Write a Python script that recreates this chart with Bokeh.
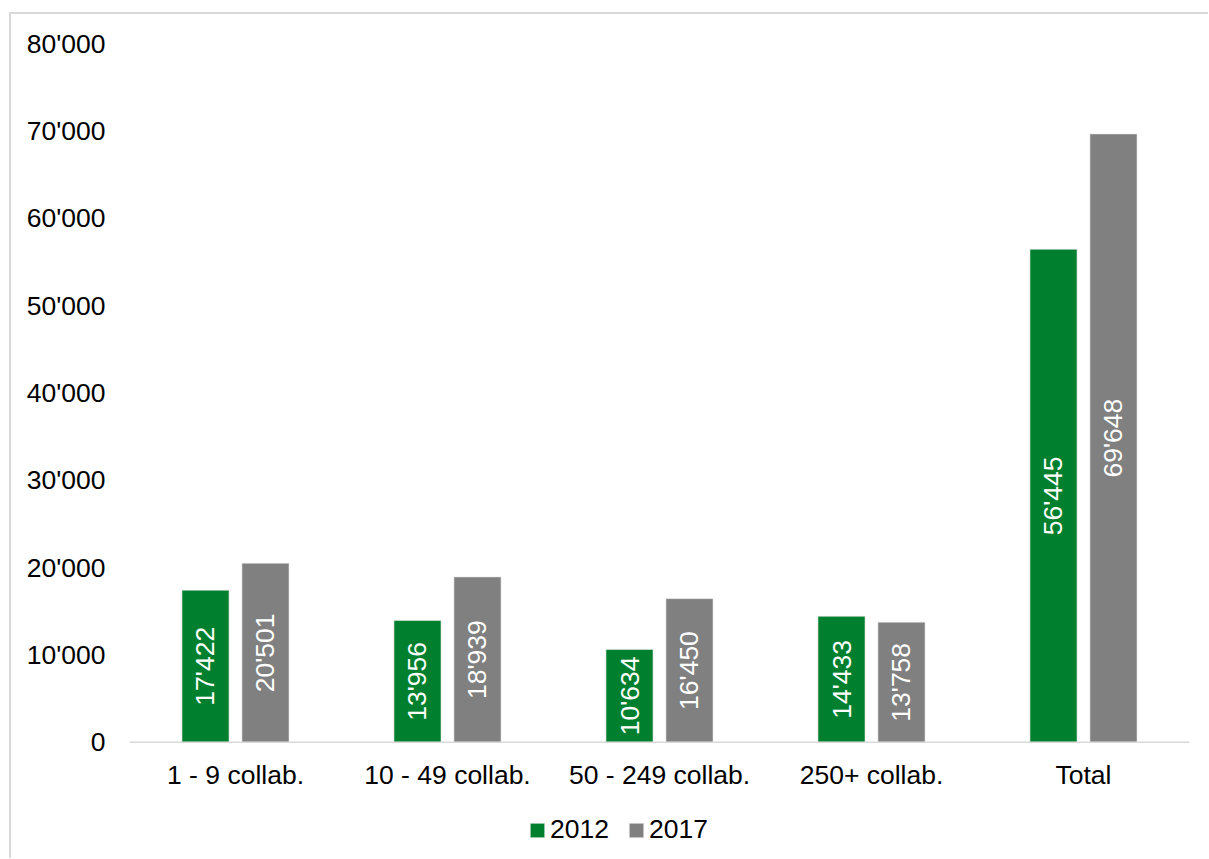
from bokeh.plotting import figure
from bokeh.models import ColumnDataSource, FactorRange, Range1d, LabelSet, Legend, LegendItem, FixedTicker, Span
from bokeh.transform import dodge
from bokeh.core.properties import value
from bokeh.embed import file_html
from bokeh.resources import INLINE

categories = ["1 - 9 collab.", "10 - 49 collab.", "50 - 249 collab.", "250+ collab.", "Total"]
values_2012 = [17422, 13956, 10634, 14433, 56445]
values_2017 = [20501, 18939, 16450, 13758, 69648]
series_names = ["2012", "2017"]
y_ticks = [0, 10000, 20000, 30000, 40000, 50000, 60000, 70000, 80000]
y_tick_labels = ["0", "10'000", "20'000", "30'000", "40'000", "50'000", "60'000", "70'000", "80'000"]

GREEN = "#00802f"
GRAY = "#808080"
FONT = "Liberation Sans"
FS = "26.5px"


def fmt(v):
    return f"{v:,}".replace(",", "'")


src = ColumnDataSource(dict(
    cat=categories,
    v12=values_2012,
    v17=values_2017,
    m12=[v / 2 for v in values_2012],
    m17=[v / 2 for v in values_2017],
    t12=[fmt(v) for v in values_2012],
    t17=[fmt(v) for v in values_2017],
))

# frame: 80000 at y=44, 0 at y=742; frame extends down to the canvas bottom
y_start = -(860 - 742) / (742 - 44) * 80000

p = figure(
    x_range=FactorRange(*categories, range_padding=0),
    y_range=Range1d(y_start, 80000),
    x_axis_location=None,
    width=1199, height=846,
    output_backend="svg", toolbar_location=None,
    min_border_left=118, min_border_right=21, min_border_top=29, min_border_bottom=0,
)
p.margin = (12, 0, 0, 9)
p.styles = {"border-top": "2px solid #d9d9d9", "border-left": "2px solid #d9d9d9"}
p.outline_line_color = None
p.xgrid.grid_line_color = None
p.ygrid.grid_line_color = None
p.background_fill_color = "white"
p.border_fill_color = "white"

# baseline (category axis line)
p.add_layout(Span(location=0, dimension="width", line_color="#d9d9d9", line_width=1.5))

off = 0.1415
bw = 0.222
r1 = p.vbar(x=dodge("cat", -off, range=p.x_range), top="v12", width=bw, source=src,
            fill_color=GREEN, line_color="#e6e6e6", line_width=0.6)
r2 = p.vbar(x=dodge("cat", off, range=p.x_range), top="v17", width=bw, source=src,
            fill_color=GRAY, line_color="#e6e6e6", line_width=0.6)

for xo, yc, tc in [(-off, "m12", "t12"), (off, "m17", "t17")]:
    p.add_layout(LabelSet(x=dodge("cat", xo, range=p.x_range), y=yc, text=tc, source=src,
                          angle=1.5707963, text_align="center", text_baseline="middle",
                          text_color="white", text_font=value(FONT), text_font_size=FS))

# category labels
p.text(x="cat", y=0, text="cat", source=src, y_offset=18,
       text_align="center", text_baseline="top", text_color="black",
       text_font=value(FONT), text_font_size=value(FS))

# y axis
p.yaxis.ticker = FixedTicker(ticks=y_ticks)
p.yaxis.major_label_overrides = {t: l for t, l in zip(y_ticks, y_tick_labels)}
p.yaxis.axis_line_color = None
p.yaxis.major_tick_line_color = None
p.yaxis.minor_tick_line_color = None
p.yaxis.major_tick_out = 0
p.yaxis.major_tick_in = 0
p.yaxis.major_label_standoff = 24
p.yaxis.major_label_text_font = FONT
p.yaxis.major_label_text_font_size = FS
p.yaxis.major_label_text_color = "black"

legend = Legend(items=[LegendItem(label=series_names[0], renderers=[r1]),
                       LegendItem(label=series_names[1], renderers=[r2])],
                orientation="horizontal", location=(399, 15),
                glyph_width=18, glyph_height=18, label_standoff=4, spacing=18,
                label_text_font=FONT, label_text_font_size=FS, label_text_color="black",
                border_line_color=None, background_fill_alpha=0, padding=0, margin=0)
p.add_layout(legend)

open("out.html", "w").write(file_html(p, INLINE))
